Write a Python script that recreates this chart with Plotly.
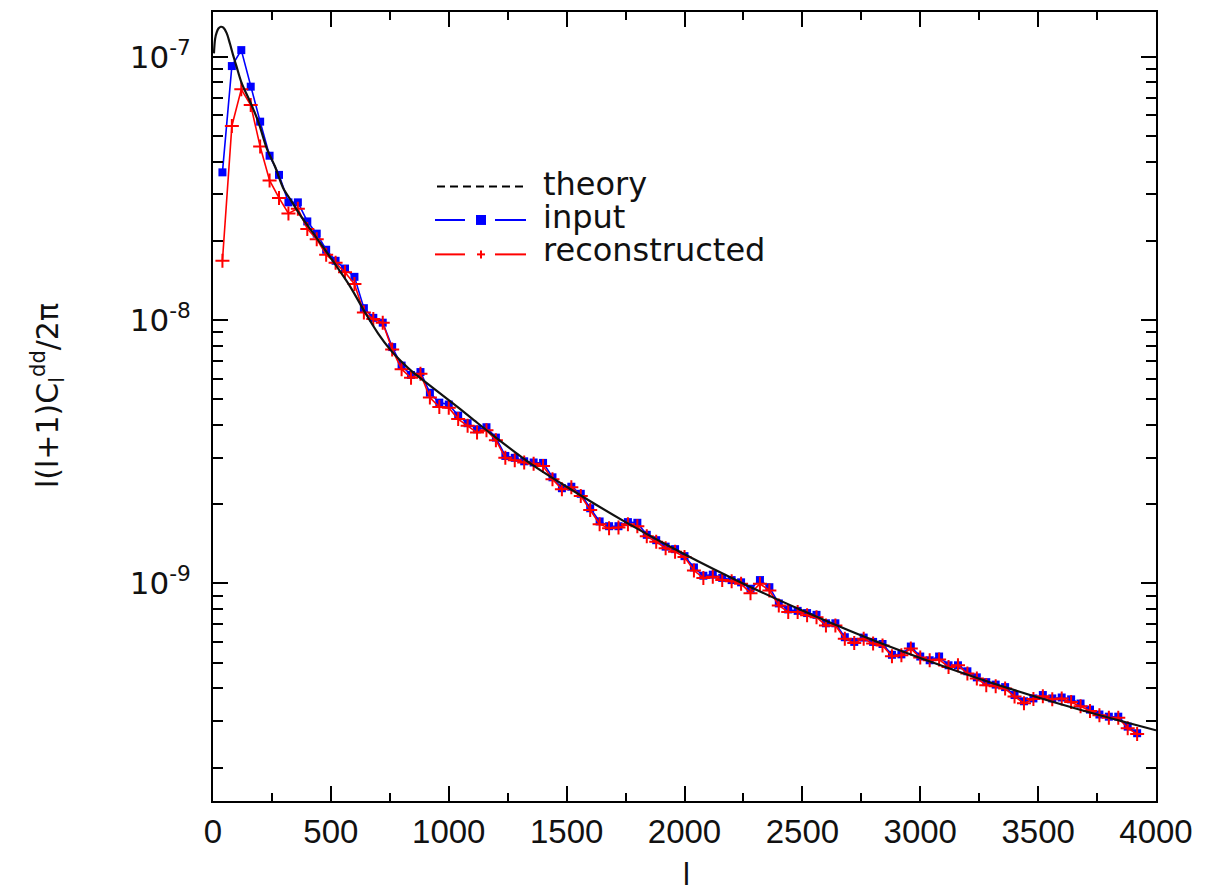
import plotly.graph_objects as go

# multipole bin centres
ell = list(range(40, 3960, 40))

# l(l+1)C_l^dd / 2pi for the input maps
input_cl = [
    3.64e-8, 9.22e-8, 1.06e-7, 7.70e-8, 5.67e-8, 4.21e-8, 3.56e-8, 2.80e-8, 2.80e-8, 2.37e-8,
    2.13e-8, 1.85e-8, 1.68e-8, 1.57e-8, 1.46e-8, 1.11e-8, 1.02e-8, 9.78e-9, 7.90e-9, 6.72e-9,
    6.19e-9, 6.35e-9, 5.30e-9, 4.86e-9, 4.78e-9, 4.34e-9, 4.06e-9, 3.85e-9, 3.92e-9, 3.58e-9,
    3.05e-9, 3.00e-9, 2.91e-9, 2.88e-9, 2.87e-9, 2.53e-9, 2.30e-9, 2.33e-9, 2.19e-9, 1.93e-9,
    1.72e-9, 1.65e-9, 1.65e-9, 1.71e-9, 1.70e-9, 1.53e-9, 1.46e-9, 1.38e-9, 1.35e-9, 1.27e-9,
    1.15e-9, 1.07e-9, 1.08e-9, 1.05e-9, 1.03e-9, 1.01e-9, 9.55e-10, 1.03e-9, 9.68e-10, 8.40e-10,
    7.97e-10, 7.87e-10, 7.72e-10, 7.60e-10, 7.06e-10, 7.06e-10, 6.25e-10, 6.00e-10, 6.23e-10, 6.00e-10,
    5.89e-10, 5.36e-10, 5.38e-10, 5.76e-10, 5.28e-10, 5.11e-10, 5.28e-10, 4.89e-10, 4.89e-10, 4.64e-10,
    4.40e-10, 4.22e-10, 4.13e-10, 4.04e-10, 3.77e-10, 3.57e-10, 3.66e-10, 3.77e-10, 3.66e-10, 3.69e-10,
    3.63e-10, 3.50e-10, 3.32e-10, 3.18e-10, 3.12e-10, 3.12e-10, 2.86e-10, 2.70e-10,
]

# l(l+1)C_l^dd / 2pi recovered by the reconstruction
recon_cl = [
    1.68e-8, 5.46e-8, 7.52e-8, 6.56e-8, 4.56e-8, 3.39e-8, 2.91e-8, 2.54e-8, 2.65e-8, 2.22e-8,
    2.03e-8, 1.77e-8, 1.65e-8, 1.52e-8, 1.37e-8, 1.07e-8, 1.01e-8, 9.77e-9, 7.74e-9, 6.51e-9,
    6.04e-9, 6.26e-9, 5.08e-9, 4.68e-9, 4.65e-9, 4.21e-9, 3.97e-9, 3.74e-9, 3.82e-9, 3.50e-9,
    3.00e-9, 2.94e-9, 2.88e-9, 2.85e-9, 2.79e-9, 2.49e-9, 2.28e-9, 2.32e-9, 2.15e-9, 1.90e-9,
    1.68e-9, 1.62e-9, 1.63e-9, 1.68e-9, 1.65e-9, 1.51e-9, 1.44e-9, 1.36e-9, 1.32e-9, 1.26e-9,
    1.12e-9, 1.05e-9, 1.06e-9, 1.03e-9, 1.02e-9, 9.97e-10, 9.19e-10, 9.97e-10, 9.41e-10, 8.25e-10,
    7.79e-10, 7.79e-10, 7.57e-10, 7.45e-10, 6.93e-10, 6.93e-10, 6.17e-10, 5.94e-10, 6.17e-10, 5.91e-10,
    5.82e-10, 5.29e-10, 5.34e-10, 5.66e-10, 5.23e-10, 5.11e-10, 5.14e-10, 4.82e-10, 4.89e-10, 4.55e-10,
    4.36e-10, 4.11e-10, 4.07e-10, 3.99e-10, 3.72e-10, 3.51e-10, 3.64e-10, 3.73e-10, 3.63e-10, 3.66e-10,
    3.55e-10, 3.42e-10, 3.28e-10, 3.16e-10, 3.09e-10, 3.09e-10, 2.82e-10, 2.68e-10,
]

# theoretical spectrum
theory_l = [4, 9, 16, 23, 33, 44, 58, 72, 86, 100, 122, 157, 192, 228, 263, 298, 334, 369,
            440, 510, 580, 650, 700, 750, 800, 850, 900, 1000, 1100, 1200, 1350, 1500,
            1750, 2000, 2250, 2500, 2750, 3000, 3250, 3500, 3750, 4000]
theory_cl = [1.03e-7, 1.17e-7, 1.24e-7, 1.28e-7, 1.30e-7, 1.29e-7, 1.23e-7, 1.12e-7, 1.01e-7,
             9.17e-8, 7.92e-8, 6.76e-8, 5.67e-8, 4.49e-8, 3.83e-8, 3.17e-8, 2.82e-8, 2.51e-8,
             2.05e-8, 1.67e-8, 1.35e-8, 1.05e-8, 8.91e-9, 7.76e-9, 6.95e-9, 6.32e-9, 5.83e-9,
             4.97e-9, 4.22e-9, 3.58e-9, 2.84e-9, 2.33e-9, 1.71e-9, 1.29e-9, 9.98e-10,
             7.89e-10, 6.34e-10, 5.21e-10, 4.35e-10, 3.69e-10, 3.18e-10, 2.77e-10]

x_ticks = [0, 500, 1000, 1500, 2000, 2500, 3000, 3500, 4000]
y_ticks = [1e-9, 1e-8, 1e-7]
y_ticktext = ["10<sup>-9</sup>", "10<sup>-8</sup>", "10<sup>-7</sup>"]
y_minor = [m * 10.0 ** e for e in (-10, -9, -8) for m in range(2, 10)]

legend_labels = ["theory", "input", "reconstructed"]

BLUE = "#0000ff"
RED = "#ff0000"

W, H = 1205, 893
ML, MR, MT, MB = 213, 49, 10, 92
PW, PH = W - ML - MR, H - MT - MB


def px(xp):
    return (xp - ML) / PW


def py(yp):
    return (H - MB - yp) / PH


fig = go.Figure()

fig.add_trace(go.Scatter(
    x=ell, y=input_cl, mode="lines+markers", name="input",
    line=dict(color=BLUE, width=1.6),
    marker=dict(symbol="square", size=8, color=BLUE),
))
fig.add_trace(go.Scatter(
    x=ell, y=recon_cl, mode="lines+markers", name="reconstructed",
    line=dict(color=RED, width=1.6),
    marker=dict(symbol="cross-thin", size=10, line=dict(color=RED, width=2)),
))
fig.add_trace(go.Scatter(
    x=theory_l, y=theory_cl, mode="lines", name="theory",
    line=dict(color="#111", width=2.2, shape="spline", smoothing=0.9),
))

axis_common = dict(
    showline=True, linecolor="black", linewidth=2, mirror="ticks",
    ticks="inside", tickcolor="black", tickwidth=1.6,
    showgrid=False, zeroline=False,
)

fig.update_xaxes(
    range=[0, 4000], tickvals=x_ticks, ticklen=15,
    tickfont=dict(family="Liberation Sans, Arial", size=33, color="#111"),
    ticklabelstandoff=0,
    minor=dict(dtick=250, tick0=0, ticks="inside", ticklen=8, tickcolor="black", tickwidth=1.6),
    **axis_common,
)
fig.update_yaxes(
    type="log", range=[-9.826, -6.83], tickvals=y_ticks, ticktext=y_ticktext, ticklen=15,
    tickfont=dict(family="DejaVu Sans", size=31, color="#111"),
    ticklabelstandoff=14,
    minor=dict(tickvals=y_minor, ticks="inside", ticklen=10, tickcolor="black", tickwidth=1.6),
    **axis_common,
)

shapes = []
ann = []
text_font = dict(family="DejaVu Sans", size=32, color="#111")

# legend: theory
shapes.append(dict(type="line", xref="paper", yref="paper",
                   x0=px(437), x1=px(527), y0=py(185), y1=py(185),
                   line=dict(color="black", width=2, dash="8px,5px")))
# legend: input
for a, b in ((435, 465), (495, 526)):
    shapes.append(dict(type="line", xref="paper", yref="paper",
                       x0=px(a), x1=px(b), y0=py(218.5), y1=py(218.5),
                       line=dict(color=BLUE, width=2)))
shapes.append(dict(type="rect", xref="paper", yref="paper",
                   x0=px(476), x1=px(486), y0=py(223.5), y1=py(213.5),
                   fillcolor=BLUE, line=dict(width=0)))
# legend: reconstructed
for a, b in ((435, 465), (495, 526)):
    shapes.append(dict(type="line", xref="paper", yref="paper",
                       x0=px(a), x1=px(b), y0=py(253), y1=py(253),
                       line=dict(color=RED, width=2)))
shapes.append(dict(type="line", xref="paper", yref="paper",
                   x0=px(477), x1=px(485), y0=py(253), y1=py(253),
                   line=dict(color=RED, width=2)))
shapes.append(dict(type="line", xref="paper", yref="paper",
                   x0=px(481), x1=px(481), y0=py(249), y1=py(257),
                   line=dict(color=RED, width=2)))

for label, yc in zip(legend_labels, (182, 215.5, 249)):
    ann.append(dict(text=label, xref="paper", yref="paper", x=px(541), y=py(yc),
                    xanchor="left", yanchor="middle", showarrow=False, font=text_font))

# axis titles
ann.append(dict(text="l", xref="paper", yref="paper", x=px(686), y=py(875),
                xanchor="center", yanchor="middle", showarrow=False,
                font=dict(family="Liberation Sans, Arial", size=31, color="#111")))
ann.append(dict(text="l(l+1)C<sub>l</sub><sup>dd</sup>/2π", xref="paper", yref="paper",
                x=px(47), y=py(395), textangle=-90,
                xanchor="center", yanchor="middle", showarrow=False,
                font=dict(family="DejaVu Sans", size=30, color="#111")))

fig.update_layout(
    width=W, height=H,
    margin=dict(l=ML, r=MR, t=MT, b=MB),
    paper_bgcolor="white", plot_bgcolor="white",
    showlegend=False,
    shapes=shapes, annotations=ann,
)

fig.write_html("out.html")
